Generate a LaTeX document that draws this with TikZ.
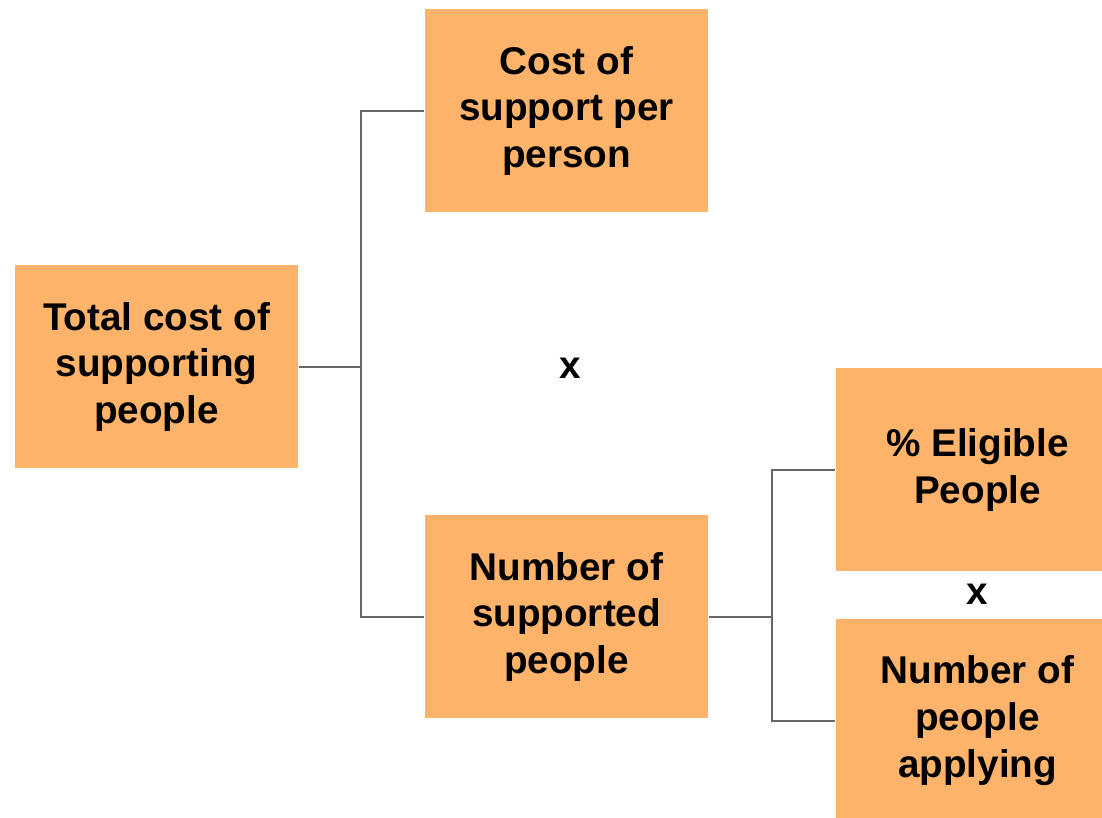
\documentclass[tikz,border=0pt]{standalone}
\usepackage{fontspec}
\setmainfont{Liberation Sans}
\usepackage{tikz}

\definecolor{boxorange}{HTML}{FDB36A}

\begin{document}
\begin{tikzpicture}[thick,
    box/.style = {fill = boxorange, minimum width = 5.66cm, minimum height = 4.06cm,
        align = center, font = \fontsize{22}{26.7}\selectfont\bfseries, inner sep = 0pt},
    link/.style = {draw = gray!80!black, line width = 1.1pt},
    times/.style = {font = \fontsize{22}{26.7}\selectfont\bfseries}]
    \useasboundingbox (0,0) rectangle (22.04,16.36);

    \node [box] (total) at (3.13, 9.02) {Total cost of\\supporting\\people};
    \node [box] (costpp) at (11.33, 14.14) {Cost of\\support per\\person};
    \node [box] (numsup) at (11.33, 4.02) {Number of\\supported\\people};
    \node [box] (elig) at (19.55, 6.96) {\% Eligible\\People};
    \node [box] (applying) at (19.55, 1.94) {Number of\\people\\applying};

    \node [times] (x1) at (11.4, 9.0) {x};
    \node [times] (x2) at (19.54, 4.48) {x};

    \coordinate (j1) at (7.22, 9.02);
    \coordinate (j2) at (15.44, 4.02);

    \draw [link] (total.east) -- (j1);
    \draw [link] (costpp.west) -| (j1) |- (numsup.west);

    \draw [link] (numsup.east) -- (j2);
    \draw [link] (elig.west) -| (j2) |- (applying.west);
\end{tikzpicture}
\end{document}
